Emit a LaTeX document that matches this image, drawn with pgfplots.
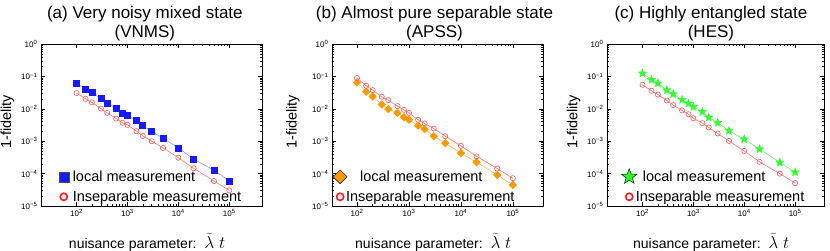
\documentclass[border=0pt]{standalone}
\usepackage{pgfplots}
\pgfplotsset{compat=1.18}
\usepackage{pgfplotstable}
\usepackage{fontspec}
\setmainfont{Liberation Sans}
\usetikzlibrary{plotmarks}
\definecolor{blueM}{rgb}{0.1,0.1,1}
\definecolor{blueL}{rgb}{0.5,0.6,1}
\definecolor{redM}{rgb}{1,0.35,0.35}
\definecolor{redL}{rgb}{1,0.45,0.45}
\definecolor{redLeg}{rgb}{1,0.1,0.1}
\definecolor{orangeM}{rgb}{1,0.6,0}
\definecolor{orangeL}{rgb}{1,0.72,0.35}
\definecolor{greenM}{rgb}{0.2,1,0.2}
\definecolor{greenL}{rgb}{0.45,0.9,0.45}
\pgfdeclareplotmark{fstar}{%
  \pgfpathmoveto{\pgfpointpolar{90}{\pgfplotmarksize}}%
  \pgfpathlineto{\pgfpointpolar{126}{0.42\pgfplotmarksize}}%
  \pgfpathlineto{\pgfpointpolar{162}{\pgfplotmarksize}}%
  \pgfpathlineto{\pgfpointpolar{198}{0.42\pgfplotmarksize}}%
  \pgfpathlineto{\pgfpointpolar{234}{\pgfplotmarksize}}%
  \pgfpathlineto{\pgfpointpolar{270}{0.42\pgfplotmarksize}}%
  \pgfpathlineto{\pgfpointpolar{306}{\pgfplotmarksize}}%
  \pgfpathlineto{\pgfpointpolar{342}{0.42\pgfplotmarksize}}%
  \pgfpathlineto{\pgfpointpolar{18}{\pgfplotmarksize}}%
  \pgfpathlineto{\pgfpointpolar{54}{0.42\pgfplotmarksize}}%
  \pgfpathclose
  \pgfusepathqfillstroke
}
\pgfplotstableread{
x a_loc a_ins b_loc b_ins c_loc c_ins
100    0.061    0.0305   0.065    0.089    0.124   0.055
150    0.041    0.0204   0.0336   0.0514   0.079   0.036
200    0.032    0.0158   0.024    0.0378   0.061   0.0277
300    0.0204   0.0102   0.0136   0.0235   0.0378  0.0181
400    0.0153   0.0075   0.0098   0.0185   0.0284  0.013
600    0.0102   0.0050   0.0075   0.0121   0.019   0.0089
800    0.0073   0.0037   0.0055   0.0093   0.0146  0.0068
1000   0.0061   0.0032   0.0046   0.0075   0.0115  0.0051
1500   0.0043   0.00204  0.0030   0.00457  0.0081  0.0036
2000   0.0030   0.00146  0.00235  0.00352  0.0054  0.00265
3000   0.0020   0.0010   0.00143  0.00246  0.0037  0.00173
5000   0.00124  0.00062  0.00087  0.00143  0.0021  0.00102
10000  0.00062  0.00031  0.00043  0.00072  0.00115 0.0005
20000  0.00028  0.000146 0.000224 0.00034  0.00057 0.00023
50000  0.000127 0.000059 0.000091 0.000143 0.00022 0.0001
100000 0.000059 0.0000305 0.0000446 0.000072 0.00011 0.000051
}\datatable
\pgfplotsset{
  every axis/.append style={
    scale only axis,
    tick align=inside, major tick length=4pt, minor tick length=2pt,
    tick style={black, line width=0.5pt},
    tick label style={font=\fontsize{8}{8}\selectfont},
    xlabel style={font=\fontsize{14}{14}\selectfont, at={(axis description cs:0.48,0)}, anchor=base, yshift=-42pt},
    ylabel style={font=\fontsize{14.5}{14.5}\selectfont, anchor=center},
    title style={align=center, font=\fontsize{17}{18.5}\selectfont, anchor=south, inner sep=0pt, yshift=-3pt},
    axis line style={line width=0.8pt},
    legend cell align=left,
  },
  every axis legend/.append style={draw=none, fill=none, anchor=south west,
      font=\fontsize{14.5}{14.5}\selectfont, row sep=4pt, inner sep=1pt},
}
\newcommand{\xl}{nuisance parameter:\ \ {\fontsize{18}{18}\selectfont$\widetilde{\lambda}\;t$}}
\begin{document}
\begin{tikzpicture}
\path[use as bounding box] (0pt,0pt) rectangle (830pt,-251pt);
% (a)
\begin{loglogaxis}[at={(41pt,-206pt)}, anchor=south west, width=221pt, height=162pt,
  xmin=20, xmax=4.4e5, ymin=1e-5, ymax=1,
  xtick={100,1000,10000,100000},
  xticklabels={10\textsuperscript{2},10\textsuperscript{3},10\textsuperscript{4},10\textsuperscript{5}},
  ytick={1e-5,1e-4,1e-3,1e-2,1e-1,1},
  yticklabels={10\textsuperscript{−5},10\textsuperscript{−4},10\textsuperscript{−3},10\textsuperscript{−2},10\textsuperscript{−1},10\textsuperscript{0}},
  xlabel={\xl}, ylabel={1-fidelity},
  ylabel style={at={(axis description cs:-0.152,0.52)}},
  legend style={at={(0.075,0.0)}},
  title={(a) Very noisy mixed state\\(VNMS)}, title style={at={(0.47,1)}}]
\addlegendimage{only marks, mark=square*, mark size=5pt, mark options={fill=blueM, draw=black!70, line width=0.4pt}}
\addlegendentry{\hspace{2pt}local measurement}
\addlegendimage{only marks, mark=o, mark size=3.6pt, mark options={draw=redLeg, line width=1.6pt}}
\addlegendentry{\hspace{2pt}Inseparable measurement}
\addplot[blueL, line width=0.6pt, mark=square*, mark size=3pt, mark options={fill=blueM, draw=blueM}, forget plot] table[x=x, y=a_loc] {\datatable};
\addplot[redL, line width=0.6pt, mark=o, mark size=2.6pt, mark options={draw=redM, line width=0.6pt, fill=white}, forget plot] table[x=x, y=a_ins] {\datatable};
\end{loglogaxis}
% (b)
\begin{loglogaxis}[at={(332pt,-206pt)}, anchor=south west, width=211pt, height=162pt,
  xmin=33, xmax=3.8e5, ymin=1e-5, ymax=1,
  xtick={100,1000,10000,100000},
  xticklabels={10\textsuperscript{2},10\textsuperscript{3},10\textsuperscript{4},10\textsuperscript{5}},
  ytick={1e-5,1e-4,1e-3,1e-2,1e-1,1},
  yticklabels={10\textsuperscript{−5},10\textsuperscript{−4},10\textsuperscript{−3},10\textsuperscript{−2},10\textsuperscript{−1},10\textsuperscript{0}},
  xlabel={\xl}, ylabel={1-fidelity},
  ylabel style={at={(axis description cs:-0.185,0.52)}},
  legend style={at={(0.0,0.0)}},
  title={(b) Almost pure separable state\\(APSS)}, title style={at={(0.486,1)}}]
\addlegendimage{only marks, mark=square*, mark size=4.9pt, mark options={fill=orangeM, draw=black!80, line width=0.6pt, rotate=45}}
\addlegendentry{\hspace{11pt}local measurement}
\addlegendimage{only marks, mark=o, mark size=3.6pt, mark options={draw=redLeg, line width=1.6pt}}
\addlegendentry{\hspace{-3pt}Inseparable measurement}
\addplot[orangeL, line width=0.6pt, mark=square*, mark size=2.6pt, mark options={fill=orangeM, draw=orangeM, rotate=45}, forget plot] table[x=x, y=b_loc] {\datatable};
\addplot[redL, line width=0.6pt, mark=o, mark size=2.6pt, mark options={draw=redM, line width=0.6pt, fill=white}, forget plot] table[x=x, y=b_ins] {\datatable};
\end{loglogaxis}
% (c)
\begin{loglogaxis}[at={(607pt,-206pt)}, anchor=south west, width=217pt, height=162pt,
  xmin=20, xmax=3.7e5, ymin=1e-5, ymax=1,
  xtick={100,1000,10000,100000},
  xticklabels={10\textsuperscript{2},10\textsuperscript{3},10\textsuperscript{4},10\textsuperscript{5}},
  ytick={1e-5,1e-4,1e-3,1e-2,1e-1,1},
  yticklabels={10\textsuperscript{−5},10\textsuperscript{−4},10\textsuperscript{−3},10\textsuperscript{−2},10\textsuperscript{−1},10\textsuperscript{0}},
  xlabel={\xl}, ylabel={1-fidelity},
  ylabel style={at={(axis description cs:-0.154,0.52)}},
  legend style={at={(0.062,0.0)}},
  title={(c) Highly entangled state\\(HES)}, title style={at={(0.479,1)}}]
\addlegendimage{only marks, mark=fstar, mark size=8pt, mark options={fill=greenM, draw=black!70!green, line width=0.6pt}}
\addlegendentry{\hspace{4pt}local measurement}
\addlegendimage{only marks, mark=o, mark size=3.6pt, mark options={draw=redLeg, line width=1.6pt}}
\addlegendentry{\hspace{-3pt}Inseparable measurement}
\addplot[greenL, line width=0.6pt, mark=fstar, mark size=4.5pt, mark options={fill=greenM, draw=greenM, line width=0.3pt}, forget plot] table[x=x, y=c_loc] {\datatable};
\addplot[redL, line width=0.6pt, mark=o, mark size=2.6pt, mark options={draw=redM, line width=0.6pt, fill=white}, forget plot] table[x=x, y=c_ins] {\datatable};
\end{loglogaxis}
\end{tikzpicture}
\end{document}
